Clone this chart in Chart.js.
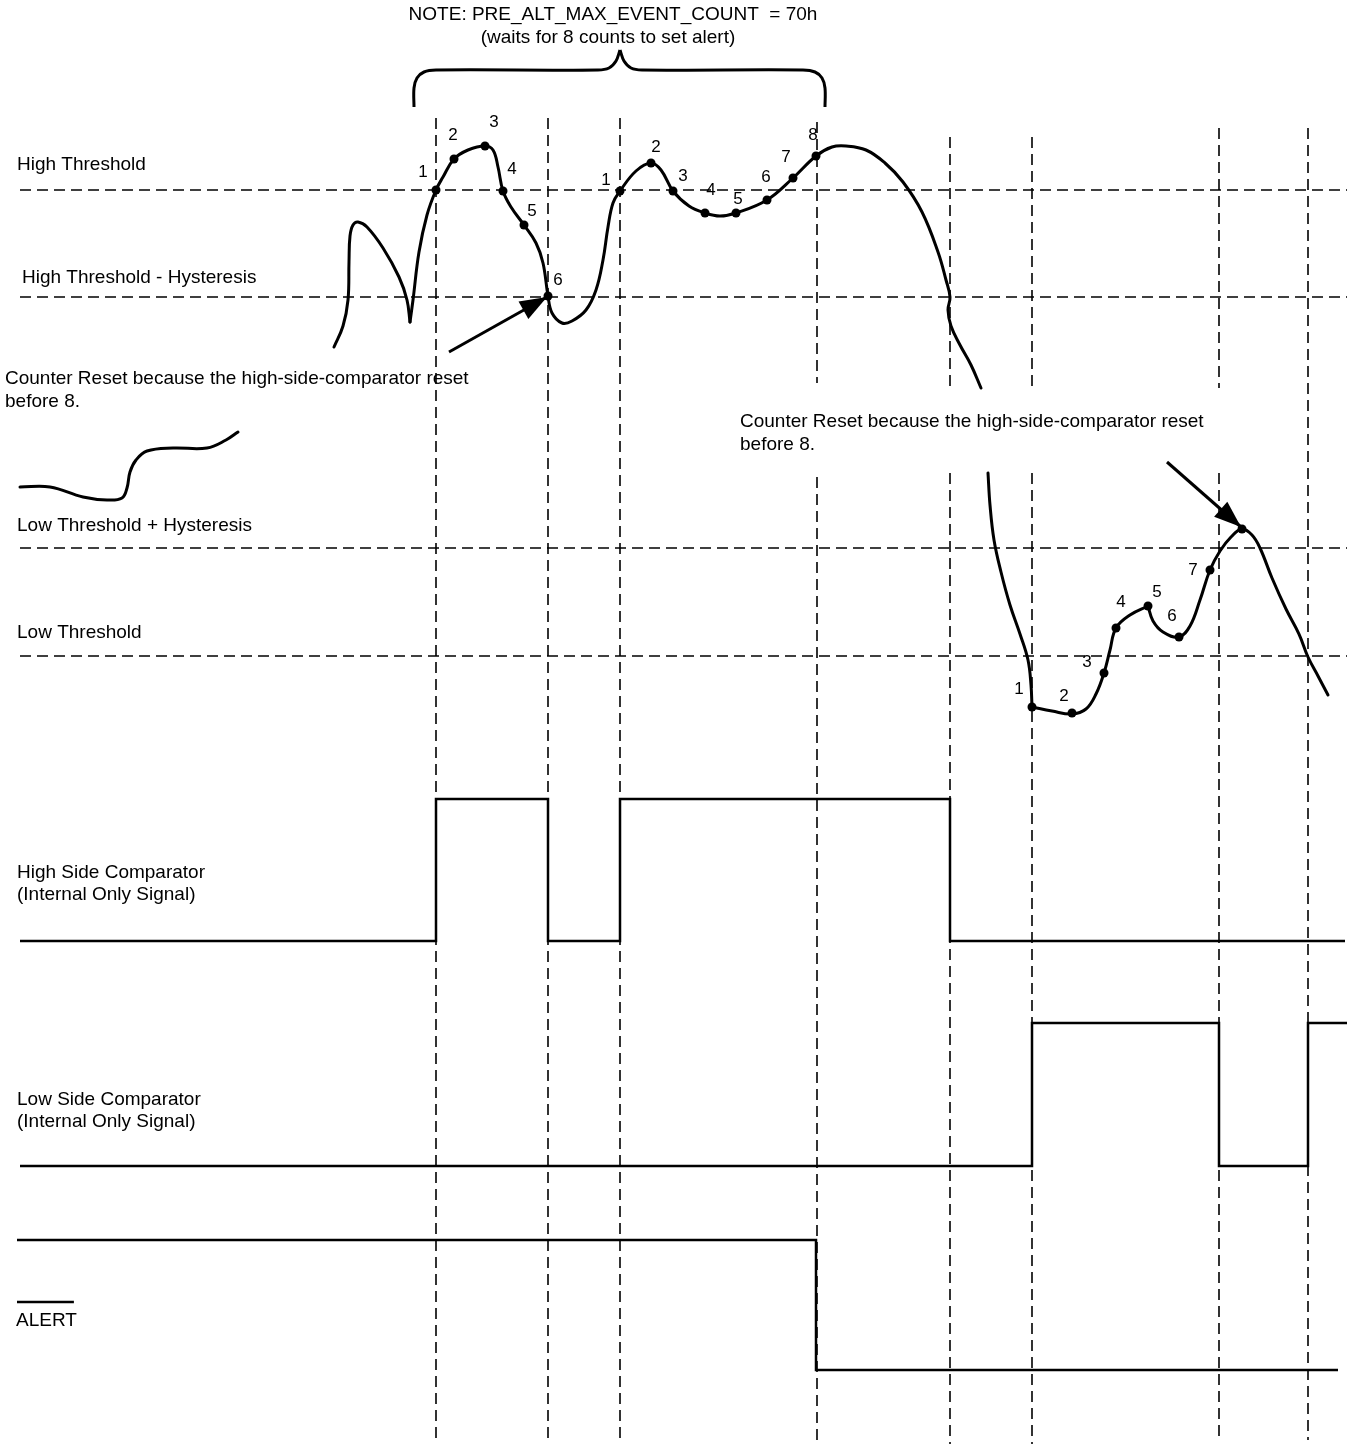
<!DOCTYPE html>
<html>
<head>
<meta charset="utf-8">
<script src="https://cdn.jsdelivr.net/npm/chart.js@4.4.1/dist/chart.umd.min.js"></script>
<style>
html,body{margin:0;padding:0;background:#ffffff;}
canvas{display:block;}
</style>
</head>
<body>
<canvas id="c" width="1347" height="1454"></canvas>
<script>
// ---------------- DATA (diagram units: x = time, y = level, y grows downward) ----------------
const thresholdNames  = ['High Threshold', 'High Threshold - Hysteresis', 'Low Threshold + Hysteresis', 'Low Threshold'];
const thresholdLevels = [190, 297, 548, 656];

// sampling instants (vertical dashed markers)
const eventTimes = [436, 548, 620, 817, 950, 1032, 1219, 1308];

// analog input signal, piecewise
const analogLeftDrop   = [[20,487],[50,487],[83,497],[107,500],[122,498],[127,488],[130,472],[136,460],[147,451],[173,448],[207,448],[226,440],[238,432]];
const analogRiseA      = [[334,347],[343,326],[348,300],[349,262],[350,236],[353,225],[358,222],[367,227],[383,248],[399,277],[407,300],[410,322]];
const analogMain       = [[410,322],[413,300],[419,252],[427,215],[436,190],[443,177],[454,159],[468,150],[485,146],[493,150],[498,167],[503,191],[511,207],[524,225],[536,243],[543,263],[548,296],[552,313],[562,323],[572,321],[586,310],[596,290],[603,260],[608,227],[613,203],[620,191],[636,171],[651,163],[661,170],[673,191],[689,206],[705,213],[720,216],[736,213],[767,200],[793,178],[816,156],[832,147],[846,146],[866,150],[885,163],[903,182],[922,212],[938,252],[946,280],[950,297],[948,310],[951,326],[960,345],[971,365],[981,388]];
const analogFallLow    = [[988,473],[990,505],[994,540],[1001,572],[1010,605],[1020,634],[1028,660],[1031,685],[1032,707]];
const analogLowRecover = [[1032,707],[1052,711],[1072,714],[1086,709],[1096,694],[1104,673],[1110,650],[1116,628],[1130,615],[1148,606]];
const analogLowSecond  = [[1148,606],[1153,621],[1163,632],[1179,637],[1190,626],[1200,600],[1210,570],[1220,551],[1231,537],[1242,529],[1252,535],[1260,548],[1272,578],[1286,609],[1299,634],[1308,657],[1318,676],[1328,695]];

// counted samples
const countsFirst  = [[436,190],[454,159],[485,146],[503,191],[524,225],[548,296]];
const countsSecond = [[620,191],[651,163],[673,191],[705,213],[736,213],[767,200],[793,178],[816,156]];
const countsLow    = [[1032,707],[1072,713],[1104,673],[1116,628],[1148,606],[1179,637],[1210,570],[1242,529]];
const countLabelsFirst  = ['1','2','3','4','5','6'];
const countLabelsSecond = ['1','2','3','4','5','6','7','8'];
const countLabelsLow    = ['1','2','3','4','5','6','7'];

// digital signals: edge times and state after each edge
const highSideEdges  = [20, 436, 548, 620, 950, 1345];
const highSideStates = [0, 1, 0, 1, 0, 0];
const lowSideEdges   = [20, 1032, 1219, 1308, 1347];
const lowSideStates  = [0, 1, 0, 1, 1];
const alertEdges     = [17, 816, 1338];
const alertStates    = [1, 0, 0];

// annotation arrows [from, to]
const arrowReset1 = [[449,352],[547,297]];
const arrowReset2 = [[1167,462],[1241,527]];

// brace over the counting window
const braceLeft  = [[414,107],[414,88],[417,78],[424,72],[436,70],[598,70],[609,68],[616,61],[620,50]];
const braceRight = [[620,50],[624,61],[631,68],[642,70],[803,70],[815,72],[822,78],[825,88],[825,107]];

const noteLines = ['NOTE: PRE_ALT_MAX_EVENT_COUNT  = 70h', '(waits for 8 counts to set alert)'];
const resetNote = ['Counter Reset because the high-side-comparator reset', 'before 8.'];

// ---------------- LAYOUT ----------------
const FONT = '"Liberation Sans", Arial, Helvetica, sans-serif';
const rows = {
  high:  {hi: 799,  lo: 941},
  low:   {hi: 1023, lo: 1166},
  alert: {hi: 1240, lo: 1370}
};
const markerSpans = [
  [[118,1440]], [[118,1440]], [[118,1440]],
  [[122,383],[477,1440]], [[137,388],[473,1444]], [[137,388],[473,1444]],
  [[128,388],[473,1440]], [[128,1440]]
];
const thresholdLabelPos = [[17,170],[22,283],[17,531],[17,638]];
const countLabelPosFirst  = [[423,172],[453,135],[494,122],[512,169],[532,211],[558,280]];
const countLabelPosSecond = [[606,180],[656,147],[683,176],[711,190],[738,199],[766,177],[786,157],[813,135]];
const countLabelPosLow    = [[1019,689],[1064,696],[1087,662],[1121,602],[1157,592],[1172,616],[1193,570]];

const pts = arr => arr.map(p => ({x: p[0], y: p[1]}));
const datasets = [];

thresholdLevels.forEach(lv => datasets.push({
  data: [{x:20,y:lv},{x:1347,y:lv}], showLine:true, borderColor:'#000', borderWidth:1.6,
  borderDash:[11,6], pointRadius:0, tension:0
}));
eventTimes.forEach((t,i) => markerSpans[i].forEach(s => datasets.push({
  data: [{x:t,y:s[0]},{x:t,y:s[1]}], showLine:true, borderColor:'#000', borderWidth:1.6,
  borderDash:[11,6], pointRadius:0, tension:0
})));

[analogLeftDrop, analogRiseA, analogMain, analogFallLow, analogLowRecover, analogLowSecond].forEach(seg => datasets.push({
  data: pts(seg), showLine:true, borderColor:'#000', borderWidth:3, pointRadius:0, tension:0.4,
  borderCapStyle:'round', borderJoinStyle:'round'
}));
[braceLeft, braceRight].forEach(seg => datasets.push({
  data: pts(seg), showLine:true, borderColor:'#000', borderWidth:3, pointRadius:0, tension:0.35,
  borderCapStyle:'butt'
}));
[countsFirst, countsSecond, countsLow].forEach(seg => datasets.push({
  data: pts(seg), showLine:false, pointRadius:4.5, pointBackgroundColor:'#000', pointBorderColor:'#000', pointBorderWidth:0
}));
[arrowReset1, arrowReset2].forEach(seg => datasets.push({
  data: pts(seg), showLine:true, borderColor:'#000', borderWidth:3, pointRadius:0, tension:0, arrowHead:true
}));

function digital(edges, states, row) {
  return edges.map((x,i) => ({x, y: states[i] ? row.hi : row.lo}));
}
[[highSideEdges, highSideStates, rows.high],[lowSideEdges, lowSideStates, rows.low],[alertEdges, alertStates, rows.alert]]
  .forEach(([e,s,r]) => datasets.push({
    data: digital(e,s,r), showLine:true, stepped:true, borderColor:'#000', borderWidth:2.5,
    pointRadius:0, borderJoinStyle:'miter', borderCapStyle:'butt'
  }));

const arrowPlugin = {
  id: 'arrowPlugin',
  afterDatasetsDraw(chart) {
    const ctx = chart.ctx;
    chart.data.datasets.forEach((ds, i) => {
      if (!ds.arrowHead) return;
      const el = chart.getDatasetMeta(i).data;
      const a = el[el.length-2], b = el[el.length-1];
      const ang = Math.atan2(b.y - a.y, b.x - a.x);
      const len = 27, half = 10;
      ctx.save();
      ctx.fillStyle = '#000';
      ctx.beginPath();
      ctx.moveTo(b.x, b.y);
      ctx.lineTo(b.x - len*Math.cos(ang) + half*Math.sin(ang), b.y - len*Math.sin(ang) - half*Math.cos(ang));
      ctx.lineTo(b.x - len*Math.cos(ang) - half*Math.sin(ang), b.y - len*Math.sin(ang) + half*Math.cos(ang));
      ctx.closePath();
      ctx.fill();
      ctx.restore();
    });
  }
};

const textPlugin = {
  id: 'textPlugin',
  afterDraw(chart) {
    const ctx = chart.ctx, X = chart.scales.x, Y = chart.scales.y;
    const put = (txt, x, y, size, align, base) => {
      ctx.font = size + 'px ' + FONT;
      ctx.textAlign = align || 'left';
      ctx.textBaseline = base || 'alphabetic';
      ctx.fillStyle = '#000';
      ctx.fillText(txt, X.getPixelForValue(x), Y.getPixelForValue(y));
    };
    ctx.save();
    thresholdNames.forEach((n,i) => put(n, thresholdLabelPos[i][0], thresholdLabelPos[i][1], 19));
    put(noteLines[0], 613, 20, 19, 'center');
    put(noteLines[1], 608, 43, 19, 'center');
    put(resetNote[0], 5, 384, 19);  put(resetNote[1], 5, 407, 19);
    put(resetNote[0], 740, 427, 19); put(resetNote[1], 740, 450, 19);
    put('High Side Comparator', 17, 878, 19); put('(Internal Only Signal)', 17, 900, 19);
    put('Low Side Comparator', 17, 1105, 19); put('(Internal Only Signal)', 17, 1127, 19);
    put('ALERT', 16, 1326, 19);
    // overline of ALERT (active-low signal)
    ctx.font = '19px ' + FONT;
    const w = ctx.measureText('ALERT').width;
    ctx.strokeStyle = '#000'; ctx.lineWidth = 2.5;
    ctx.beginPath();
    ctx.moveTo(X.getPixelForValue(17), Y.getPixelForValue(1302));
    ctx.lineTo(X.getPixelForValue(16) + w - 3, Y.getPixelForValue(1302));
    ctx.stroke();
    countLabelsFirst.forEach((t,i) => put(t, countLabelPosFirst[i][0], countLabelPosFirst[i][1], 17, 'center', 'middle'));
    countLabelsSecond.forEach((t,i) => put(t, countLabelPosSecond[i][0], countLabelPosSecond[i][1], 17, 'center', 'middle'));
    countLabelsLow.forEach((t,i) => put(t, countLabelPosLow[i][0], countLabelPosLow[i][1], 17, 'center', 'middle'));
    ctx.restore();
  }
};

const bgPlugin = {
  id: 'bg',
  beforeDraw(chart) {
    const ctx = chart.ctx;
    ctx.save(); ctx.fillStyle = '#fff'; ctx.fillRect(0,0,chart.width,chart.height); ctx.restore();
  }
};

new Chart(document.getElementById('c'), {
  type: 'scatter',
  data: { datasets },
  options: {
    responsive: false,
    animation: false,
    devicePixelRatio: 1,
    layout: { padding: 0, autoPadding: false },
    plugins: { legend: {display:false}, tooltip: {enabled:false} },
    events: [],
    scales: {
      x: { type:'linear', min:0, max:1347, display:false },
      y: { type:'linear', min:0, max:1454, reverse:true, display:false }
    },
    elements: { line: { capBezierPoints: false } }
  },
  plugins: [bgPlugin, arrowPlugin, textPlugin]
});
</script>
</body>
</html>
